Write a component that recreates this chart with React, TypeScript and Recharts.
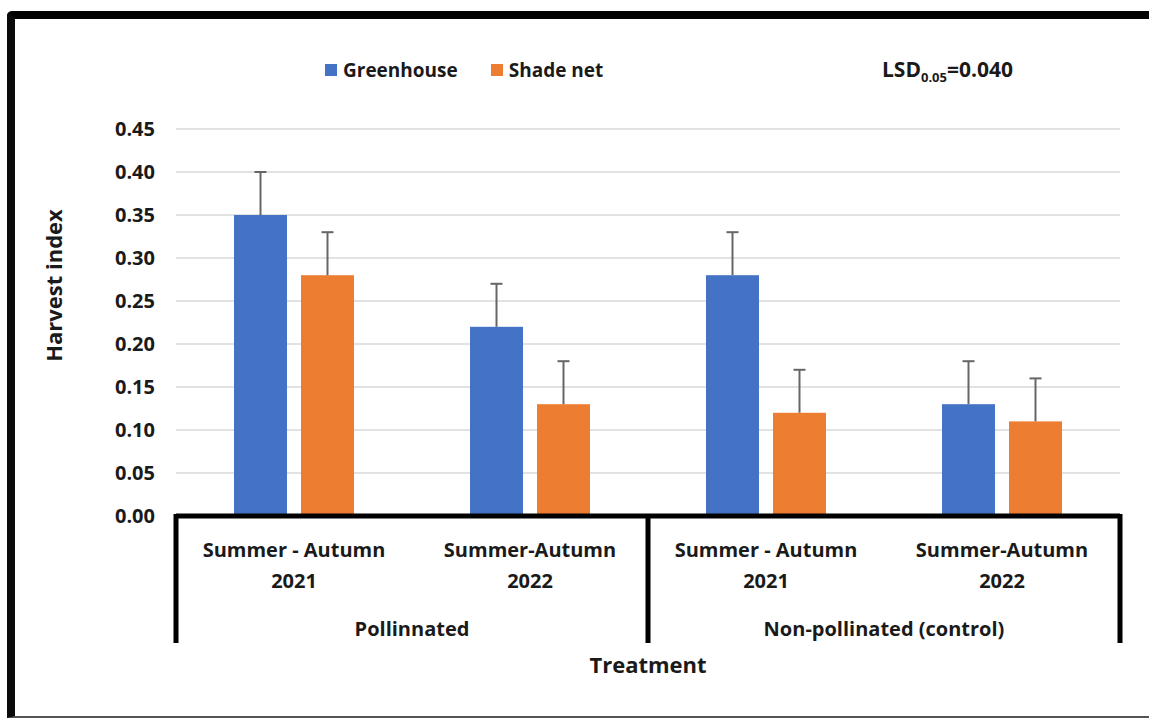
import { BarChart, Bar, XAxis, YAxis, CartesianGrid, Legend, Label } from "recharts";

// Harvest index by treatment, season and growing structure
const seasons = ["Summer - Autumn|2021", "Summer-Autumn|2022", "Summer - Autumn|2021", "Summer-Autumn|2022"];
const treatments = ["Pollinnated", "Pollinnated", "Non-pollinated (control)", "Non-pollinated (control)"];
const greenhouse = [0.35, 0.22, 0.28, 0.13];
const shadeNet = [0.28, 0.13, 0.12, 0.11];
const greenhouseErr = [0.05, 0.05, 0.05, 0.05];
const shadeNetErr = [0.05, 0.05, 0.05, 0.05];
const yTicks = [0, 0.05, 0.1, 0.15, 0.2, 0.25, 0.3, 0.35, 0.4, 0.45];

const BLUE = "#4472C4";
const ORANGE = "#ED7D31";
const FONT = "'Open Sans', Lato, sans-serif";
const INK = "#1a1a1a";

const data = seasons.map((s, i) => ({
  season: s,
  treatment: treatments[i],
  greenhouse: greenhouse[i],
  shadeNet: shadeNet[i],
  greenhouseErr: greenhouseErr[i],
  shadeNetErr: shadeNetErr[i],
}));

// bar with an upward-only error whisker
function barWithError(errKey: string, valueKey: string) {
  return (props: any) => {
    const { x, y, width, height, fill, payload } = props;
    const value = payload[valueKey];
    const err = payload[errKey];
    const pxPerUnit = value ? height / value : 0;
    const top = y - err * pxPerUnit;
    const cx = x + width / 2;
    return (
      <g>
        <rect x={x} y={y} width={width} height={height} fill={fill} />
        <line x1={cx} x2={cx} y1={y} y2={top} stroke="#666" strokeWidth={2} />
        <line x1={cx - 6} x2={cx + 6} y1={top} y2={top} stroke="#666" strokeWidth={2} />
      </g>
    );
  };
}

function SeasonTick(props: any) {
  const { x, y, payload, index, width, visibleTicksCount } = props;
  const band = payload.offset ? payload.offset * 2 : width / (visibleTicksCount || 4);
  const half = band / 2;
  const [line1, line2] = String(payload.value).split("|");
  const textStyle = { fontFamily: FONT, fontWeight: 700, fontSize: 20, fill: INK };
  return (
    <g>
      <text x={x} y={y + 33} textAnchor="middle" dominantBaseline="central" style={textStyle}>{line1}</text>
      <text x={x} y={y + 64} textAnchor="middle" dominantBaseline="central" style={textStyle}>{line2}</text>
      {index === 0 && (
        <line x1={x - half} x2={x - half} y1={y - 2} y2={y + 127} stroke="#000" strokeWidth={5} />
      )}
      {(index === 1 || index === 3) && (
        <line x1={x + half} x2={x + half} y1={y - 2} y2={y + 127} stroke="#000" strokeWidth={5} />
      )}
      {(index === 0 || index === 2) && (
        <text x={x + half} y={y + 112} textAnchor="middle" dominantBaseline="central" style={textStyle}>
          {treatments[index]}
        </text>
      )}
      {index === 1 && (
        <text
          x={x + half}
          y={y + 148}
          textAnchor="middle"
          dominantBaseline="central"
          style={{ ...textStyle, fontSize: 22 }}
        >
          Treatment
        </text>
      )}
    </g>
  );
}

function LegendContent(props: any) {
  const { payload } = props;
  return (
    <div style={{ display: "flex", alignItems: "center", fontFamily: FONT, fontWeight: 700, fontSize: 19, color: INK }}>
      {payload.map((p: any, i: number) => (
        <div key={p.value} style={{ display: "flex", alignItems: "center", marginLeft: i === 0 ? 0 : 33 }}>
          <span style={{ width: 12, height: 12, background: p.color, display: "inline-block", marginRight: 6 }} />
          <span>{p.value}</span>
        </div>
      ))}
    </div>
  );
}

export default function App() {
  return (
    <div style={{ position: "absolute", left: 0, top: 0, width: 1149, height: 718, background: "#fff", fontFamily: FONT }}>
      <div
        style={{
          position: "absolute",
          left: 7,
          top: 11,
          width: 1142,
          height: 707,
          boxSizing: "border-box",
          borderTop: "8px solid #000",
          borderLeft: "8px solid #0a0a0a",
          borderBottom: "2px solid #555",
          borderTopLeftRadius: 5,
        }}
      />
      <BarChart
        width={1149}
        height={718}
        data={data}
        margin={{ top: 129, right: 29, bottom: 0, left: 0 }}
        barSize={53}
        barGap={14}
      >
        <CartesianGrid vertical={false} stroke="#d9d9d9" strokeWidth={1.5} />
        <XAxis
          dataKey="season"
          height={202}
          tickSize={0}
          tickMargin={0}
          interval={0}
          axisLine={{ stroke: "#000", strokeWidth: 5 }}
          tick={<SeasonTick />}
        />
        <YAxis
          width={176}
          domain={[0, 0.45]}
          ticks={yTicks}
          tickSize={0}
          tickMargin={21}
          axisLine={false}
          tickFormatter={(v: number) => v.toFixed(2)}
          tick={{ fontFamily: FONT, fontWeight: 700, fontSize: 20, fill: INK }}
        >
          <Label
            content={(p: any) => {
              const vb = p.viewBox;
              const cx = vb.x + 53;
              const cy = vb.y + vb.height / 2 - 37;
              return (
                <text
                  x={cx}
                  y={cy}
                  transform={`rotate(-90, ${cx}, ${cy})`}
                  textAnchor="middle"
                  dominantBaseline="central"
                  style={{ fontFamily: FONT, fontWeight: 700, fontSize: 22, fill: INK }}
                >
                  Harvest index
                </text>
              );
            }}
          />
        </YAxis>
        <Legend
          layout="horizontal"
          verticalAlign="middle"
          align="center"
          wrapperStyle={{ top: 57, left: 325, width: "auto" }}
          content={<LegendContent />}
        />
        <Bar dataKey="greenhouse" name="Greenhouse" fill={BLUE} isAnimationActive={false} shape={barWithError("greenhouseErr", "greenhouse")} />
        <Bar dataKey="shadeNet" name="Shade net" fill={ORANGE} isAnimationActive={false} shape={barWithError("shadeNetErr", "shadeNet")} />
      </BarChart>
      <div
        style={{
          position: "absolute",
          left: 882,
          top: 55,
          fontFamily: FONT,
          fontWeight: 700,
          fontSize: 21,
          color: INK,
          whiteSpace: "nowrap",
        }}
      >
        LSD<sub style={{ fontSize: 13 }}>0.05</sub>=0.040
      </div>
    </div>
  );
}
